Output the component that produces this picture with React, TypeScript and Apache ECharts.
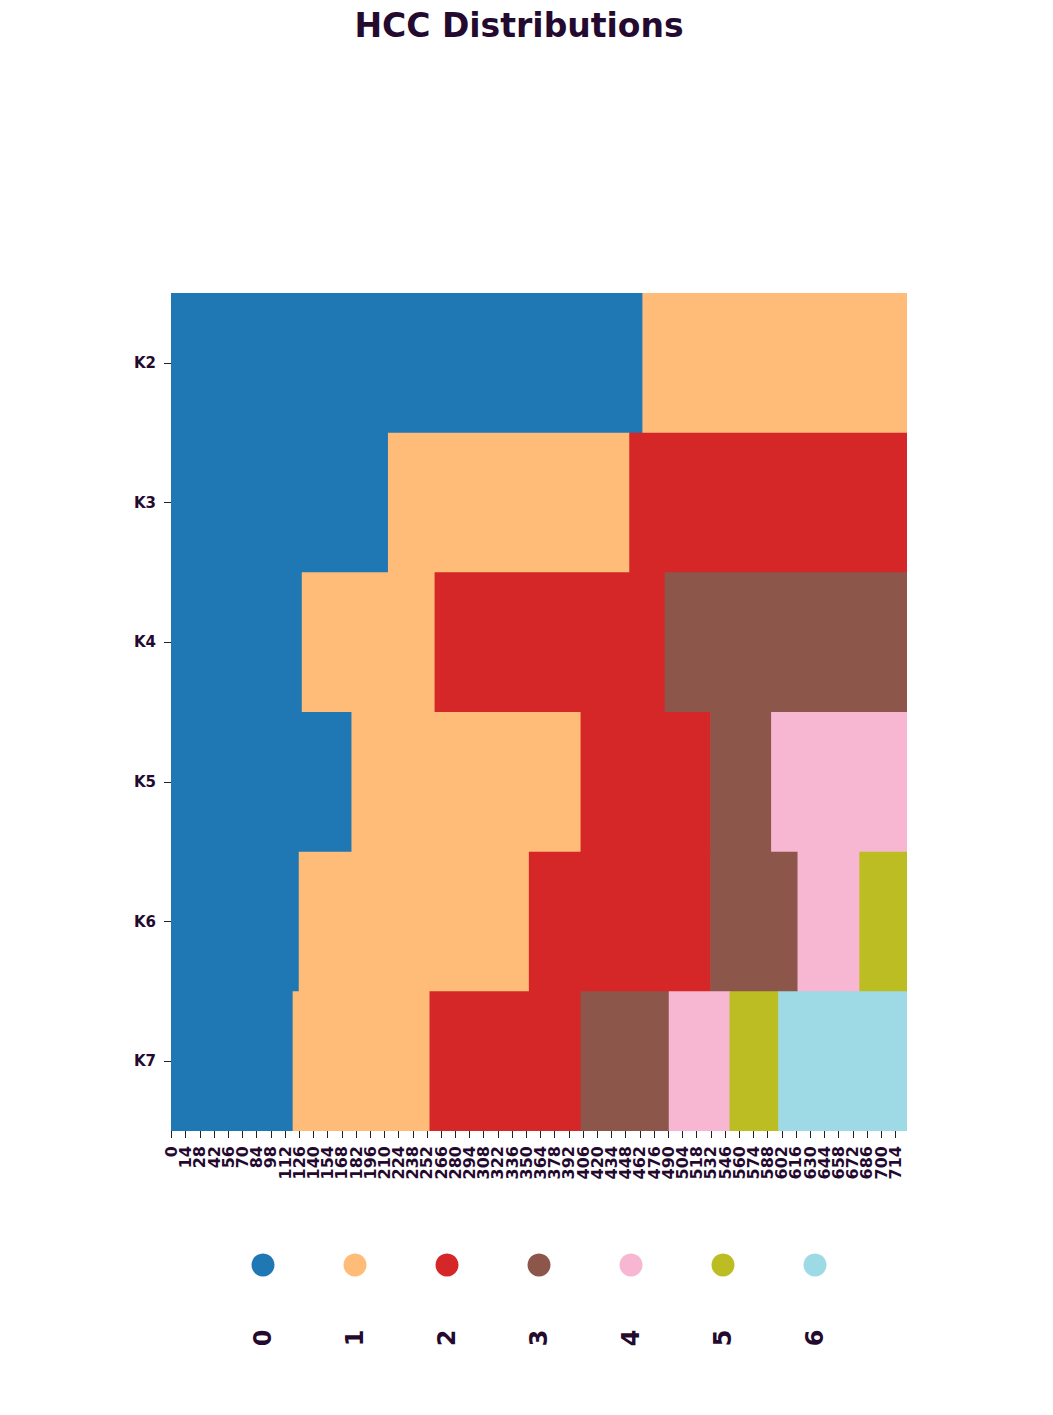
import React, { useEffect, useRef } from "react";
import * as echarts from "echarts";

const rows = ["K2", "K3", "K4", "K5", "K6", "K7"];
const clusterIds = [0, 1, 2, 3, 4, 5, 6];
const sampleCount = 726;
const tickStep = 14;

// [cluster, firstSample, lastSample] per row
const segK2 = [[0, 0, 464], [1, 465, 725]];
const segK3 = [[0, 0, 213], [1, 214, 451], [2, 452, 725]];
const segK4 = [[0, 0, 128], [1, 129, 259], [2, 260, 486], [3, 487, 725]];
const segK5 = [[0, 0, 177], [1, 178, 403], [2, 404, 531], [3, 532, 591], [4, 592, 725]];
const segK6 = [[0, 0, 125], [1, 126, 352], [2, 353, 531], [3, 532, 617], [4, 618, 678], [5, 679, 725]];
const segK7 = [[0, 0, 119], [1, 120, 254], [2, 255, 403], [3, 404, 490], [4, 491, 550], [5, 551, 598], [6, 599, 725]];

const clusterColors = ["#1f77b4", "#ffbb78", "#d62728", "#8c564b", "#f7b6d2", "#bcbd22", "#9edae5"];
const textColor = "#250a30";
const FONT = '"DejaVu Sans", sans-serif';

export default function App() {
  const ref = useRef<HTMLDivElement>(null);
  useEffect(() => {
    if (!ref.current) return;
    const chart = echarts.init(ref.current, undefined, { renderer: "svg" });
    const allSegs = [segK2, segK3, segK4, segK5, segK6, segK7];
    const data: any[] = [];
    allSegs.forEach((segs, r) => {
      segs.forEach(([c, s, e]) => {
        data.push({ value: [s, e, r, c], itemStyle: { color: clusterColors[c] } });
      });
    });
    const xCats = Array.from({ length: sampleCount }, (_, i) => String(i));

    const legendX0 = 263;
    const legendGap = 92;
    const graphics: any[] = [];
    clusterIds.forEach((c, i) => {
      graphics.push({
        type: "circle",
        shape: { cx: legendX0 + i * legendGap, cy: 1265, r: 11.5 },
        style: { fill: clusterColors[c] },
      });
      graphics.push({
        type: "text",
        x: legendX0 + i * legendGap,
        y: 1338,
        rotation: Math.PI / 2,
        style: {
          text: String(c),
          font: `bold 24px ${FONT}`,
          fill: textColor,
          textAlign: "center",
          textVerticalAlign: "middle",
        },
      });
    });
    graphics.push({
      type: "text",
      x: 519,
      y: 25,
      style: {
        text: "HCC Distributions",
        font: `bold 33px ${FONT}`,
        fill: textColor,
        textAlign: "center",
        textVerticalAlign: "middle",
      },
    });

    chart.setOption({
      animation: false,
      backgroundColor: "#ffffff",
      grid: { left: 171, top: 293, width: 736, height: 838, containLabel: false },
      xAxis: {
        type: "category",
        data: xCats,
        axisLine: { show: false },
        axisTick: {
          show: true,
          interval: (i: number) => i % tickStep === 0,
          alignWithLabel: true,
          length: 7,
          lineStyle: { color: "#222", width: 1 },
        },
        axisLabel: {
          interval: 0,
          formatter: (v: string, i: number) => (i % tickStep === 0 ? v : ""),
          rotate: 90,
          margin: 15,
          hideOverlap: false,
          fontFamily: FONT,
          fontWeight: "bold",
          fontSize: 16,
          color: textColor,
        },
        splitLine: { show: false },
      },
      yAxis: {
        type: "category",
        data: rows,
        inverse: true,
        axisLine: { show: false },
        axisTick: {
          show: true,
          alignWithLabel: true,
          length: 7,
          lineStyle: { color: "#222", width: 1 },
        },
        axisLabel: {
          margin: 15,
          fontFamily: FONT,
          fontWeight: "bold",
          fontSize: 15,
          color: textColor,
        },
        splitLine: { show: false },
      },
      series: [
        {
          type: "custom",
          encode: { x: [0, 1], y: 2 },
          data,
          renderItem: (params: any, api: any) => {
            const s = api.value(0);
            const e = api.value(1);
            const r = api.value(2);
            const p0 = api.coord([s, r]);
            const p1 = api.coord([e, r]);
            const size = api.size([1, 1]);
            const x0 = p0[0] - size[0] / 2;
            const x1 = p1[0] + size[0] / 2;
            const y0 = p0[1] - size[1] / 2;
            const padX = e < sampleCount - 1 ? 0.6 : 0;
            const padY = r < rows.length - 1 ? 0.6 : 0;
            return {
              type: "rect",
              shape: { x: x0, y: y0, width: x1 - x0 + padX, height: size[1] + padY },
              style: { fill: api.visual("color") },
            };
          },
        },
      ],
      graphic: graphics,
    });
    return () => chart.dispose();
  }, []);
  return (
    <div
      ref={ref}
      style={{ position: "absolute", left: 0, top: 0, width: 1053, height: 1415, background: "#fff" }}
    />
  );
}
